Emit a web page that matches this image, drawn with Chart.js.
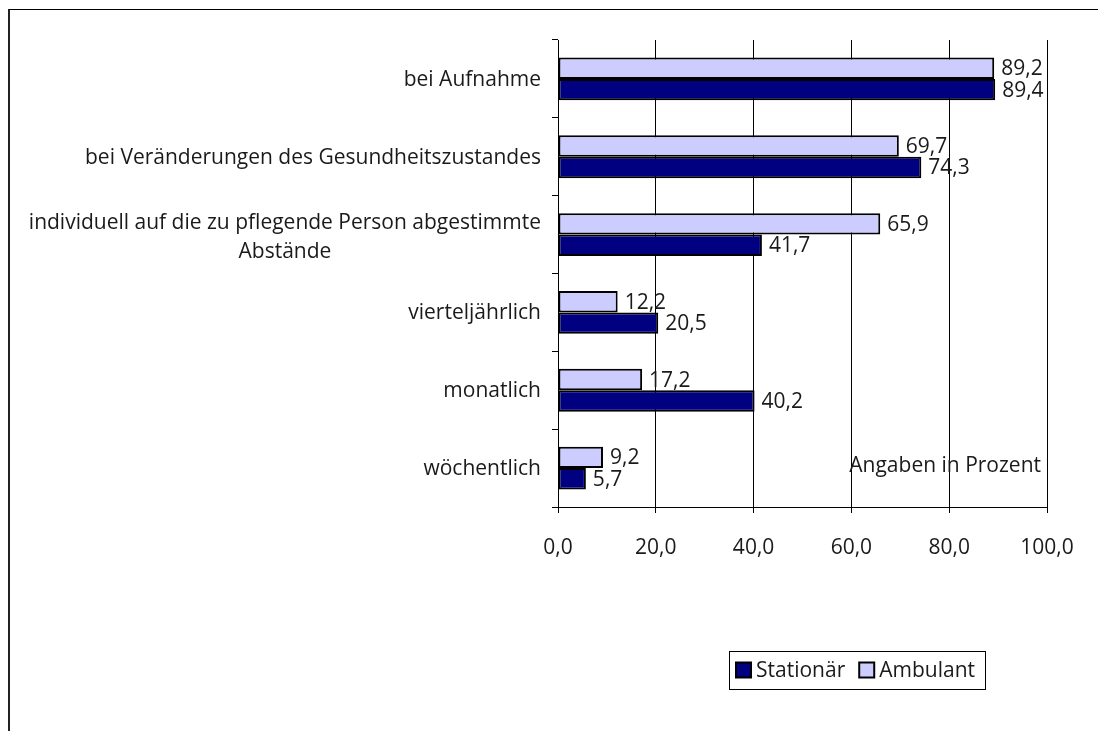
<!DOCTYPE html>
<html>
<head>
  <title>Angaben in Prozent</title>
  <script src="https://cdn.jsdelivr.net/npm/chart.js@4.4.0/dist/chart.umd.min.js"></script>
  <style>
    html, body { margin: 0; padding: 0; background: #fff; }
    #frame {
      position: absolute; left: 8px; top: 9px; right: 0; bottom: 0;
      border-top: 1px solid #000; border-left: 2px solid #222;
    }
    #wrap { position: absolute; left: 0; top: 0; width: 1098px; height: 731px; }
  </style>
</head>
<body>
  <div id="frame"></div>
  <div id="wrap"><canvas id="chart" width="1098" height="731"></canvas></div>

  <script>
    // Kategorien und Werte (Angaben in Prozent)
    const categories = [
      'bei Aufnahme',
      'bei Veränderungen des Gesundheitszustandes',
      ['individuell auf die zu pflegende Person abgestimmte', 'Abstände'],
      'vierteljährlich',
      'monatlich',
      'wöchentlich'
    ];
    const ambulant = [89.2, 69.7, 65.9, 12.2, 17.2, 9.2];
    const stationaer = [89.4, 74.3, 41.7, 20.5, 40.2, 5.7];
    const xTicks = [0, 20, 40, 60, 80, 100];

    const FONT = '"Open Sans", "Noto Sans", sans-serif';
    const SIZE = 21;
    const TEXT = '#1a1a1a';

    function fmt(v) {
      return v.toFixed(1).replace('.', ',');
    }

    // Werte rechts neben den Balken
    const valueLabels = {
      id: 'valueLabels',
      afterDatasetsDraw(chart) {
        const ctx = chart.ctx;
        ctx.save();
        ctx.font = SIZE + 'px ' + FONT;
        ctx.fillStyle = TEXT;
        ctx.textAlign = 'left';
        ctx.textBaseline = 'middle';
        chart.data.datasets.forEach((ds, i) => {
          chart.getDatasetMeta(i).data.forEach((bar, j) => {
            ctx.fillText(fmt(ds.data[j]), bar.x + 7, bar.y + 1);
          });
        });
        ctx.restore();
      }
    };

    // Kategorienbeschriftung (mehrzeilig zentriert, Block rechtsbündig)
    const catLabels = {
      id: 'catLabels',
      afterDraw(chart) {
        const ctx = chart.ctx;
        const y = chart.scales.y;
        ctx.save();
        ctx.font = SIZE + 'px ' + FONT;
        ctx.fillStyle = TEXT;
        ctx.textBaseline = 'middle';
        ctx.textAlign = 'center';
        const right = y.right - 17;
        categories.forEach((c, i) => {
          const lines = Array.isArray(c) ? c : [c];
          const w = Math.max(...lines.map(l => ctx.measureText(l).width));
          const cx = right - w / 2;
          const lh = 29;
          const cy = y.getPixelForTick(i) + 1 - (lines.length - 1) * lh / 2 + (lines.length - 1) * 2;
          lines.forEach((l, k) => ctx.fillText(l, cx, cy + k * lh));
        });

        // Hinweis
        ctx.textAlign = 'right';
        ctx.fillText('Angaben in Prozent', chart.chartArea.right - 6, y.getPixelForTick(5) - 2);
        ctx.restore();
      }
    };

    // Legende mit Rahmen
    const boxLegend = {
      id: 'boxLegend',
      afterDraw(chart) {
        const ctx = chart.ctx;
        ctx.save();
        ctx.font = SIZE + 'px ' + FONT;
        ctx.textBaseline = 'middle';
        ctx.textAlign = 'left';
        const items = [chart.data.datasets[1], chart.data.datasets[0]];
        const left = 729, top = 651, h = 38, m = 15;
        let x = left + 7;
        const cy = top + h / 2;
        const parts = [];
        items.forEach((ds, k) => {
          parts.push({ ds: ds, x: x });
          x += m + 5 + ctx.measureText(ds.label).width;
          if (k < items.length - 1) x += 14;
        });
        const width = x + 10 - left;
        ctx.fillStyle = '#fff';
        ctx.fillRect(left, top, width, h);
        ctx.strokeStyle = '#000';
        ctx.lineWidth = 1;
        ctx.strokeRect(left + 0.5, top + 0.5, width, h);
        parts.forEach(p => {
          ctx.fillStyle = p.ds.backgroundColor;
          ctx.fillRect(p.x, cy - m / 2, m, m);
          ctx.lineWidth = 2;
          ctx.strokeRect(p.x, cy - m / 2, m, m);
          ctx.fillStyle = TEXT;
          ctx.fillText(p.ds.label, p.x + m + 5, cy + 1);
        });
        ctx.restore();
      }
    };

    new Chart(document.getElementById('chart'), {
      type: 'bar',
      data: {
        labels: categories,
        datasets: [
          {
            label: 'Ambulant',
            data: ambulant,
            backgroundColor: '#CCCCFF',
            borderColor: '#000',
            borderWidth: 2,
            borderSkipped: false
          },
          {
            label: 'Stationär',
            data: stationaer,
            backgroundColor: '#000080',
            borderColor: '#000',
            borderWidth: 2,
            borderSkipped: false
          }
        ]
      },
      options: {
        indexAxis: 'y',
        responsive: false,
        animation: false,
        layout: { padding: { top: 40, right: 51, left: 0, bottom: 0 } },
        categoryPercentage: 0.55,
        barPercentage: 1.0,
        plugins: {
          legend: { display: false },
          tooltip: { enabled: false }
        },
        scales: {
          x: {
            min: 0,
            max: 100,
            afterBuildTicks(scale) {
              scale.ticks = xTicks.map(v => ({ value: v }));
            },
            afterFit(scale) { scale.height = 224; },
            grid: { color: '#000', lineWidth: 1, tickLength: 6 },
            border: { color: '#000', width: 1 },
            ticks: {
              font: { size: SIZE, family: FONT },
              color: TEXT,
              padding: 22,
              maxRotation: 0,
              callback: v => fmt(v)
            }
          },
          y: {
            afterFit(scale) { scale.width = 558; },
            grid: { display: true, drawOnChartArea: false, color: '#000', tickLength: 6, offset: true },
            border: { color: '#000', width: 1 },
            ticks: { display: false }
          }
        }
      },
      plugins: [valueLabels, catLabels, boxLegend]
    });
  </script>
</body>
</html>
